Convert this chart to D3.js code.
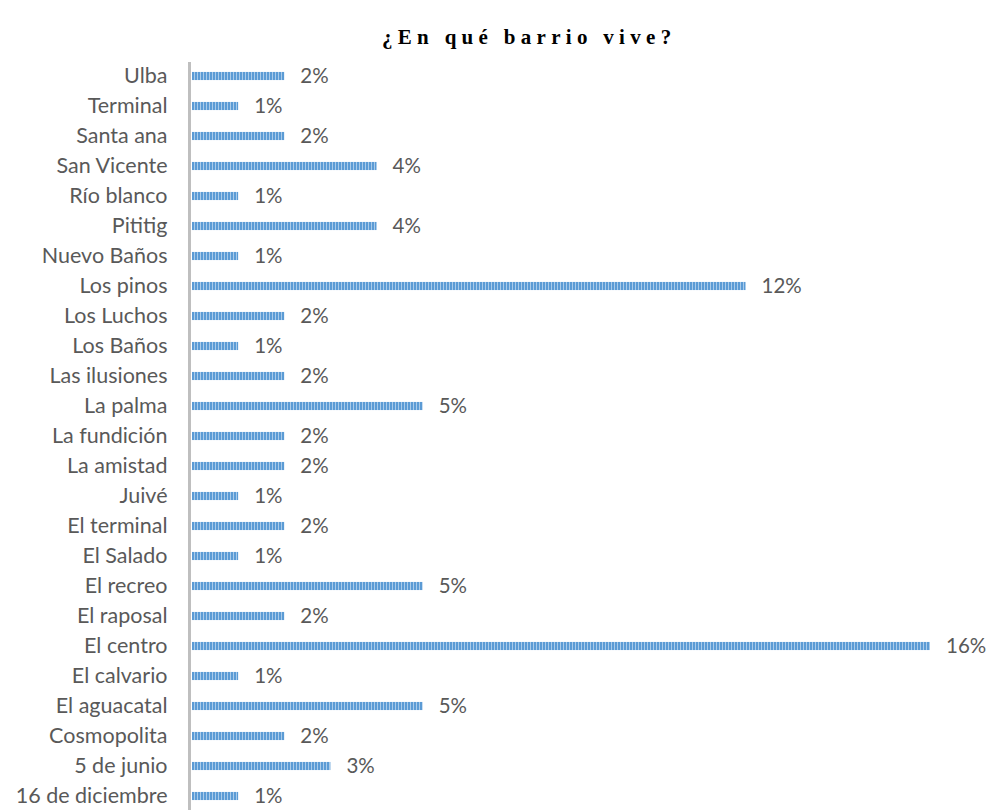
<!DOCTYPE html>
<html>
<head>
<meta charset="utf-8">
<script src="https://cdn.jsdelivr.net/npm/d3@7"></script>
<style>
  html, body { margin: 0; padding: 0; background: #fff; }
  svg { display: block; }
</style>
</head>
<body>
<svg id="chart" width="992" height="810"></svg>
<script>
// Neighbourhoods, listed top to bottom
const barrios = [
  "Ulba", "Terminal", "Santa ana", "San Vicente", "Río blanco", "Pititig",
  "Nuevo Baños", "Los pinos", "Los Luchos", "Los Baños", "Las ilusiones",
  "La palma", "La fundición", "La amistad", "Juivé", "El terminal",
  "El Salado", "El recreo", "El raposal", "El centro", "El calvario",
  "El aguacatal", "Cosmopolita", "5 de junio", "16 de diciembre"
];
// Share of respondents (%)
const porcentajes = [
  2, 1, 2, 4, 1, 4,
  1, 12, 2, 1, 2,
  5, 2, 2, 1, 2,
  1, 5, 2, 16, 1,
  5, 2, 3, 1
];

const svg = d3.select("#chart");

// Striped fill for the bars
const defs = svg.append("defs");
const pat = defs.append("pattern")
  .attr("id", "stripes")
  .attr("patternUnits", "userSpaceOnUse")
  .attr("width", 3).attr("height", 10);
pat.append("rect").attr("width", 3).attr("height", 10).attr("fill", "#5b9bd5");
pat.append("rect").attr("x", 2).attr("width", 1).attr("height", 10).attr("fill", "#a9cbea");

const x = d3.scaleLinear().domain([0, 16]).range([192, 930]);
const y = d3.scaleBand().domain(barrios).range([61, 811]).paddingInner(0.73).paddingOuter(0.365);

const sans = "Lato, 'Open Sans', sans-serif";

// Title
svg.append("text")
  .attr("x", 382).attr("y", 44)
  .attr("font-family", "'Liberation Serif', 'Times New Roman', serif")
  .attr("font-weight", "bold")
  .attr("font-size", 21)
  .attr("letter-spacing", "5.3px")
  .attr("fill", "#000")
  .text("¿En qué barrio vive?");

// Bars
svg.append("g").selectAll("rect")
  .data(barrios)
  .join("rect")
  .attr("x", x(0))
  .attr("y", d => y(d))
  .attr("width", (d, i) => x(porcentajes[i]) - x(0))
  .attr("height", y.bandwidth())
  .attr("fill", "url(#stripes)");

// Category axis
const yAxis = svg.append("g")
  .attr("transform", "translate(189.5,0)")
  .call(d3.axisLeft(y).tickSize(0).tickPadding(22));
yAxis.select(".domain").attr("stroke", "#bfbfbf").attr("stroke-width", 3)
  .attr("d", "M0,62V810");
yAxis.selectAll("text")
  .attr("font-family", sans)
  .attr("font-size", 21.5)
  .attr("fill", "#595959");

// Value labels
svg.append("g").selectAll("text")
  .data(barrios)
  .join("text")
  .attr("x", (d, i) => x(porcentajes[i]) + 16)
  .attr("y", d => y(d) + y.bandwidth() / 2)
  .attr("dy", "0.36em")
  .attr("font-family", sans)
  .attr("font-size", 20.5)
  .attr("fill", "#595959")
  .text((d, i) => porcentajes[i] + "%");
</script>
</body>
</html>
